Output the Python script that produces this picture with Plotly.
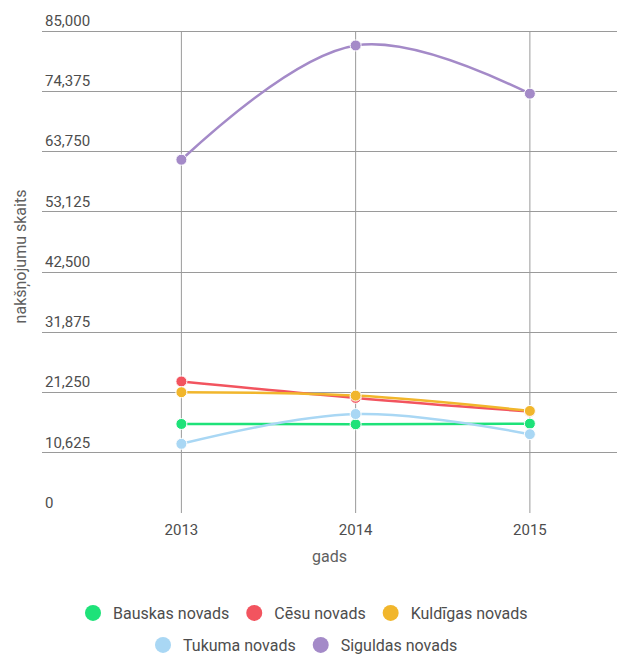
import plotly.graph_objects as go

years = [2013, 2014, 2015]
bauskas = [15700, 15650, 15750]
cesu = [23200, 20300, 17900]
kuldigas = [21300, 20700, 18000]
tukuma = [12200, 17450, 13900]
siguldas = [62300, 82450, 73950]

y_ticks = [0, 10625, 21250, 31875, 42500, 53125, 63750, 74375, 85000]
y_top = 85000

series = [
    ('Bauskas novads', bauskas, '#1ee279', 'legend'),
    ('Cēsu novads', cesu, '#f2545f', 'legend'),
    ('Kuldīgas novads', kuldigas, '#f1b62c', 'legend'),
    ('Tukuma novads', tukuma, '#a9d7f4', 'legend2'),
    ('Siguldas novads', siguldas, '#a48ac8', 'legend2'),
]

W, H = 624, 662
# t=0 also turns off plotly's 6px automargin padding around the legends
mt, mb, ml, mr = 0, 149, 42, 7
plot_h = H - mt - mb
# pad the range so the top tick label (drawn above its gridline) still fits
y_max = y_top * plot_h / (plot_h - (31 - mt))

tick_font = dict(family='Roboto', size=15, color='#4d4d4d')
title_font = dict(family='Roboto', size=16, color='#5f5f5f')

fig = go.Figure()

for name, vals, color, leg in series:
    fig.add_trace(go.Scatter(
        x=years, y=vals, mode='lines+markers', name=name,
        line=dict(color=color, width=2.5, shape='spline', smoothing=1),
        marker=dict(color=color, size=11, line=dict(color='white', width=1)),
        showlegend=False
    ))

# legend-only entries, just circles
for name, vals, color, leg in series:
    fig.add_trace(go.Scatter(
        x=[None], y=[None], mode='markers', name=name,
        marker=dict(color=color, size=20),
        legend=leg, showlegend=True
    ))

# vertical gridlines stop at the top tick, not at the padded range edge
for yr in years:
    fig.add_shape(type='line', xref='x', yref='y', x0=yr, x1=yr, y0=0, y1=y_top,
                  line=dict(color='#9a9a9a', width=1), layer='below')

fig.update_xaxes(
    range=[2012.2, 2015.5], tickvals=years, ticktext=[str(y) for y in years],
    showgrid=False, zeroline=False, automargin=False,
    showline=False, ticks='', ticklabelstandoff=6,
    tickfont=tick_font,
    title=dict(text='gads', font=title_font, standoff=12)
)
fig.update_yaxes(
    range=[0, y_max], tickvals=y_ticks, tickformat=',d',
    showgrid=True, gridcolor='#9a9a9a', gridwidth=1, zeroline=False,
    showline=False, ticks='', ticklabelposition='inside top', automargin=False,
    tickfont=tick_font,
    title=dict(text='nakšņojumu skaits', font=title_font, standoff=14)
)

leg_x = (303 - ml) / (W - ml - mr)
fig.update_layout(
    width=W, height=H,
    margin=dict(l=ml, r=mr, t=mt, b=mb),
    plot_bgcolor='white', paper_bgcolor='white',
    font=dict(family='Roboto', color='#4d4d4d'),
    legend=dict(orientation='h', x=leg_x, xanchor='center', y=-(613 - 513) / plot_h, yanchor='middle',
                font=dict(family='Roboto', size=16, color='#4d4d4d'), itemsizing='trace'),
    legend2=dict(orientation='h', x=leg_x, xanchor='center', y=-(662 - 513) / plot_h, yanchor='bottom',
                 font=dict(family='Roboto', size=16, color='#4d4d4d'), itemsizing='trace'),
)

fig.write_html("out.html", config={'displayModeBar': False},
               post_script="document.body.style.margin='0';")
